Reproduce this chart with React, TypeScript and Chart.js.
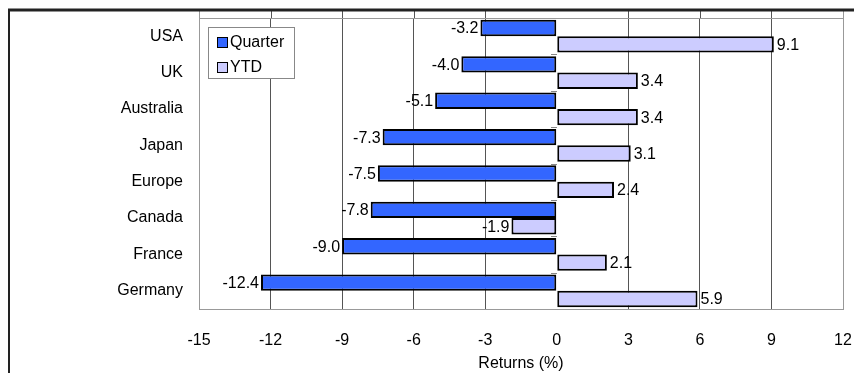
import React, { useEffect, useRef } from "react";
import { Chart, registerables } from "chart.js";

Chart.register(...registerables);

// Returns by market, in percent
const countries = ["USA", "UK", "Australia", "Japan", "Europe", "Canada", "France", "Germany"];
const quarterReturns = [-3.2, -4.0, -5.1, -7.3, -7.5, -7.8, -9.0, -12.4];
const ytdReturns = [9.1, 3.4, 3.4, 3.1, 2.4, -1.9, 2.1, 5.9];
const seriesNames = ["Quarter", "YTD"];
const xMin = -15;
const xMax = 12;
const xStep = 3;
const axisTitle = "Returns (%)";

const FONT = '"Liberation Sans", Arial, sans-serif';
const FONT_SIZE = 16;
const QUARTER_COLOR = "#3366FF";
const YTD_COLOR = "#CCCCFF";

// Outer frame, plot border and the short grid stubs above the plot
const framePlugin = {
  id: "frame",
  beforeDatasetsDraw(chart: any) {
    const { ctx, chartArea } = chart;
    const xs = chart.scales.x;
    ctx.save();
    // grid stubs reaching the frame
    ctx.lineWidth = 1;
    xs.ticks.forEach((t: any) => {
      if (t.value === 0) return;
      const px = Math.round(xs.getPixelForValue(t.value)) + 0.5;
      ctx.strokeStyle = t.value === xMin || t.value === xMax ? "#999" : "#555";
      ctx.beginPath();
      ctx.moveTo(px, 11);
      ctx.lineTo(px, chartArea.top);
      ctx.stroke();
    });
    // plot area border
    ctx.strokeStyle = "#999";
    ctx.strokeRect(
      Math.round(chartArea.left) + 0.5,
      Math.round(chartArea.top) + 0.5,
      Math.round(chartArea.right - chartArea.left),
      Math.round(chartArea.bottom - chartArea.top)
    );
    // small marks on the zero line between categories
    const x0 = Math.round(xs.getPixelForValue(0));
    const n = countries.length;
    const h = (chartArea.bottom - chartArea.top) / n;
    ctx.strokeStyle = "#888";
    for (let i = 1; i < n; i++) {
      const py = Math.round(chartArea.top + i * h) + 0.5;
      ctx.beginPath();
      ctx.moveTo(x0 - 6, py);
      ctx.lineTo(x0, py);
      ctx.stroke();
    }
    // outer frame
    ctx.strokeStyle = "#222";
    ctx.lineWidth = 3;
    ctx.beginPath();
    ctx.moveTo(8, 10);
    ctx.lineTo(chart.width, 10);
    ctx.stroke();
    ctx.lineWidth = 2;
    ctx.beginPath();
    ctx.moveTo(9, 9);
    ctx.lineTo(9, chart.height);
    ctx.stroke();
    ctx.restore();
  },
};

// Value labels at the end of each bar
const valueLabelPlugin = {
  id: "valueLabels",
  afterDatasetsDraw(chart: any) {
    const { ctx } = chart;
    ctx.save();
    ctx.font = `${FONT_SIZE}px ${FONT}`;
    ctx.fillStyle = "#000";
    ctx.textBaseline = "middle";
    chart.data.datasets.forEach((ds: any, di: number) => {
      const meta = chart.getDatasetMeta(di);
      meta.data.forEach((bar: any, i: number) => {
        const v = ds.data[i] as number;
        const { x, y } = bar.getProps(["x", "y"], true);
        const neg = v < 0;
        ctx.textAlign = neg ? "right" : "left";
        ctx.fillText(v.toFixed(1), neg ? x - 2 : x + 3, y + 1);
      });
    });
    ctx.restore();
  },
};

// Boxed legend in the upper-left corner of the plot
const boxLegendPlugin = {
  id: "boxLegend",
  afterDatasetsDraw(chart: any) {
    const { ctx, chartArea } = chart;
    const bx = Math.round(chartArea.left) + 9;
    const by = Math.round(chartArea.top) + 9;
    const bw = 86;
    const bh = 51;
    ctx.save();
    ctx.fillStyle = "#fff";
    ctx.fillRect(bx, by, bw, bh);
    ctx.strokeStyle = "#888";
    ctx.lineWidth = 1;
    ctx.strokeRect(bx + 0.5, by + 0.5, bw, bh);
    ctx.font = `${FONT_SIZE}px ${FONT}`;
    ctx.textBaseline = "middle";
    ctx.textAlign = "left";
    chart.data.datasets.forEach((ds: any, i: number) => {
      const cy = by + 15 + i * 25;
      ctx.fillStyle = ds.backgroundColor;
      ctx.fillRect(bx + 9, cy - 5, 11, 11);
      ctx.strokeStyle = "#000";
      ctx.strokeRect(bx + 9.5, cy - 4.5, 10, 10);
      ctx.fillStyle = "#000";
      ctx.fillText(ds.label, bx + 22, cy + 1);
    });
    ctx.restore();
  },
};

export default function App() {
  const canvasRef = useRef<HTMLCanvasElement | null>(null);

  useEffect(() => {
    if (!canvasRef.current) return;
    const font = { family: FONT, size: FONT_SIZE };
    const chart = new Chart(canvasRef.current, {
      type: "bar",
      data: {
        labels: countries,
        datasets: [
          {
            label: seriesNames[0],
            data: quarterReturns,
            backgroundColor: QUARTER_COLOR,
            borderColor: "#000",
            borderWidth: 2,
            borderSkipped: false,
            barPercentage: 1,
            categoryPercentage: 0.9,
          },
          {
            label: seriesNames[1],
            data: ytdReturns,
            backgroundColor: YTD_COLOR,
            borderColor: "#000",
            borderWidth: 2,
            borderSkipped: false,
            barPercentage: 1,
            categoryPercentage: 0.9,
          },
        ],
      },
      options: {
        indexAxis: "y",
        responsive: false,
        animation: false,
        layout: { padding: { top: 18, right: 11, left: 0, bottom: 0 } },
        plugins: {
          legend: { display: false },
          tooltip: { enabled: false },
        },
        scales: {
          x: {
            min: xMin,
            max: xMax,
            ticks: {
              stepSize: xStep,
              color: "#000",
              font,
              padding: 22,
              maxRotation: 0,
            },
            grid: {
              drawTicks: false,
              color: (c: any) => {
                const v = c.tick ? c.tick.value : 0;
                if (v === 0) return "rgba(0,0,0,0)";
                if (v === xMin || v === xMax) return "#999";
                return "#555";
              },
            },
            border: { display: false },
            title: {
              display: true,
              text: axisTitle,
              color: "#000",
              font,
              padding: 0,
            },
            afterFit: (s: any) => {
              s.height = 64;
              s.paddingLeft = 0;
              s.paddingRight = 0;
            },
          },
          y: {
            ticks: { color: "#000", font, padding: 16 },
            grid: { display: false, drawTicks: false },
            border: { display: false },
            afterFit: (s: any) => {
              s.width = 199;
              s.paddingTop = 0;
              s.paddingBottom = 0;
            },
          },
        },
      },
      plugins: [framePlugin, valueLabelPlugin, boxLegendPlugin],
    });
    return () => chart.destroy();
  }, []);

  return (
    <div style={{ position: "fixed", left: 0, top: 0, width: 854, height: 373, background: "#fff" }}>
      <canvas ref={canvasRef} width={854} height={373} style={{ display: "block" }} />
    </div>
  );
}
